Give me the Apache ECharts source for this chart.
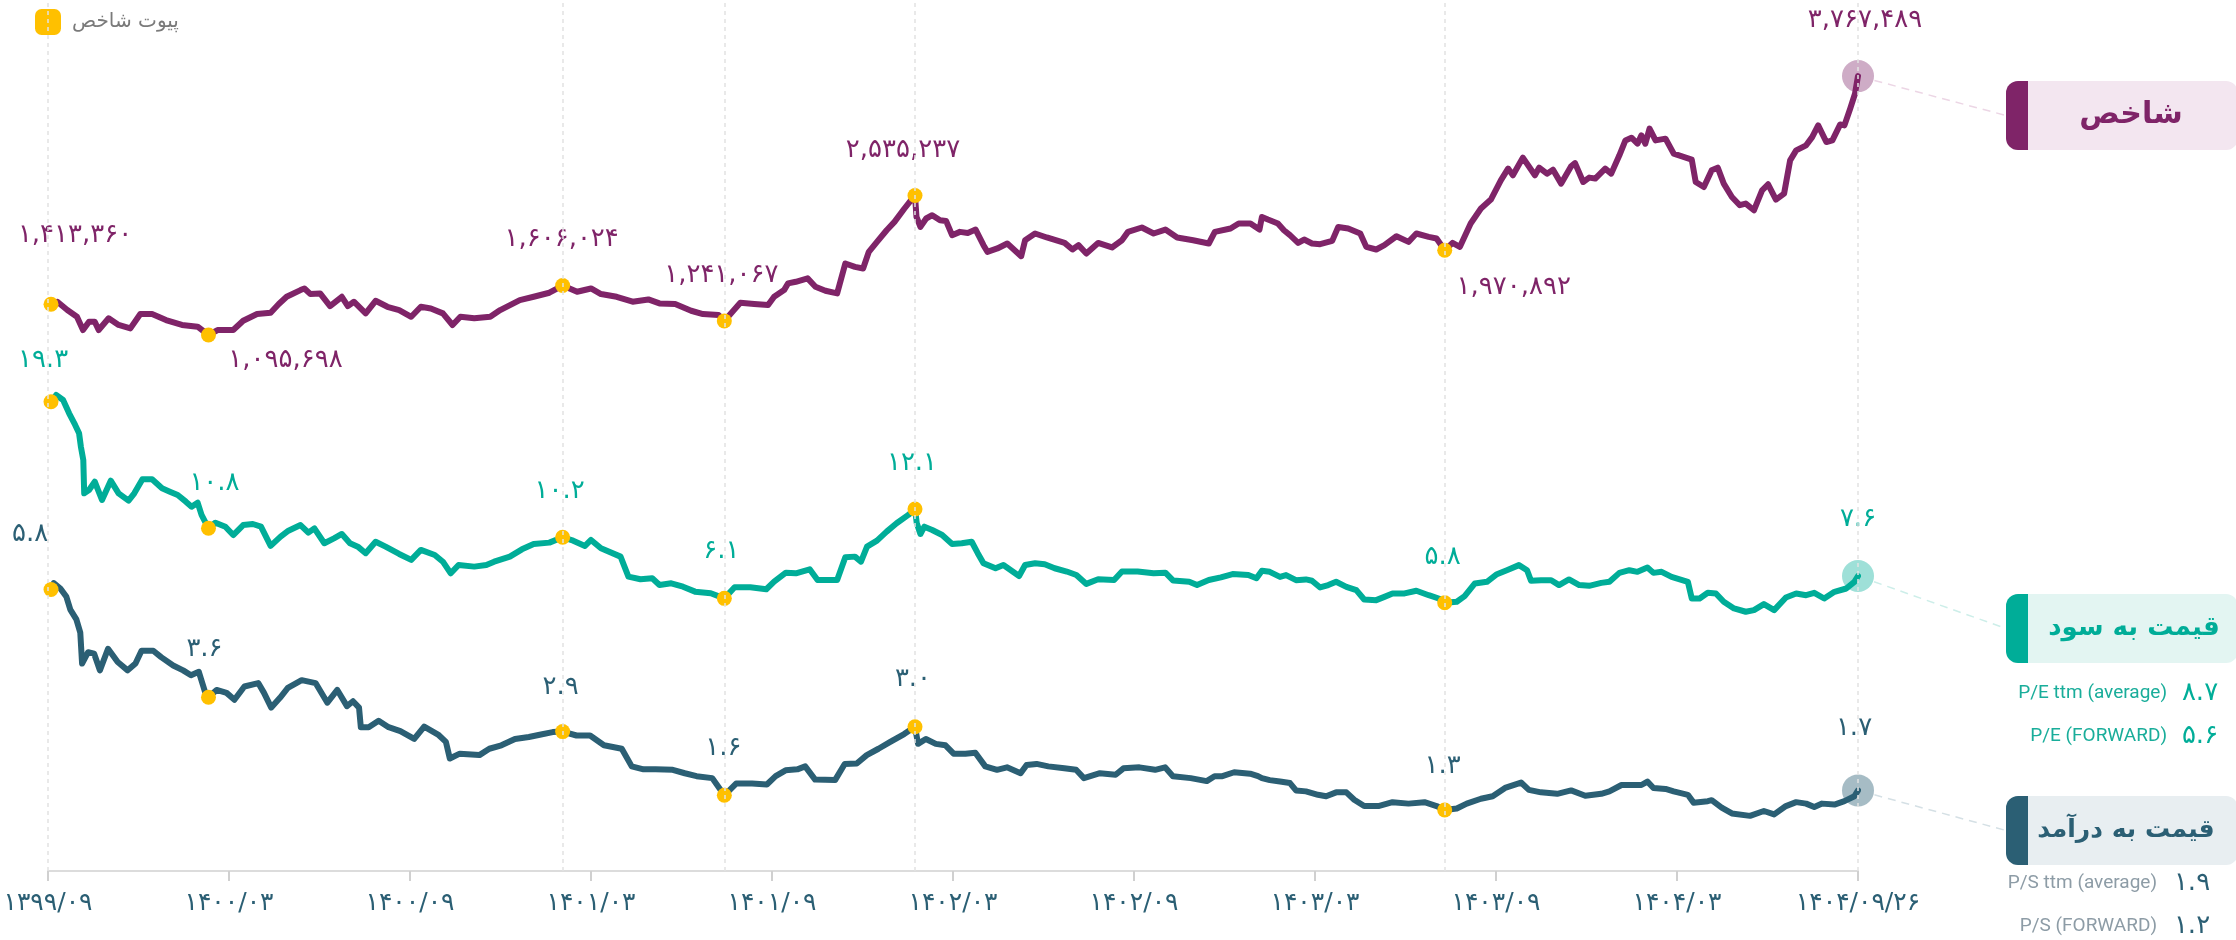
<!DOCTYPE html>
<html lang="fa">
<head>
<meta charset="utf-8">
<title>شاخص، قیمت به سود و قیمت به درآمد</title>
<script src="https://cdn.jsdelivr.net/npm/echarts@6/dist/echarts.min.js"></script>
<style>
  html, body { margin: 0; padding: 0; background: #fff; }
  #chart { width: 2236px; height: 940px; }
</style>
</head>
<body>
<div id="chart"></div>
<script>
// x = months since 1399/09, one tick every 6 months
const xLabels = ['۱۳۹۹/۰۹', '۱۴۰۰/۰۳', '۱۴۰۰/۰۹', '۱۴۰۱/۰۳', '۱۴۰۱/۰۹', '۱۴۰۲/۰۳',
  '۱۴۰۲/۰۹', '۱۴۰۳/۰۳', '۱۴۰۳/۰۹', '۱۴۰۴/۰۳', '۱۴۰۴/۰۹/۲۶'];

// شاخص (thousand points) : [month, value]
const indexPts = [
  [0.1,1413.4],[0.31,1439],[0.64,1353],[0.96,1284],[1.16,1147],[1.36,1233],[1.55,1233],[1.68,1147],[2.01,1268],[2.34,1199],
  [2.73,1164],[3.06,1312],[3.45,1312],[3.91,1250],[4.44,1199],[4.96,1181],[5.32,1095.7],[5.62,1147],[6.14,1147],[6.47,1243],
  [6.93,1312],[7.38,1325],[7.65,1415],[7.91,1490],[8.37,1559],[8.50,1576],[8.70,1518],[9.02,1525],[9.35,1394],[9.74,1490],
  [9.94,1394],[10.14,1439],[10.53,1319],[10.86,1449],[11.25,1387],[11.64,1353],[12.04,1284],[12.36,1387],[12.69,1370],[13.09,1319],
  [13.41,1199],[13.67,1284],[14.13,1268],[14.66,1284],[14.99,1353],[15.64,1456],[16.10,1490],[16.62,1532],[17.06,1606.0],[17.54,1542],
  [18.00,1576],[18.33,1518],[18.85,1490],[19.38,1439],[19.90,1463],[20.27,1422],[20.79,1415],[21.32,1346],[21.71,1312],[22.23,1302],
  [22.42,1241.1],[22.95,1428],[23.41,1415],[23.87,1405],[24.07,1490],[24.40,1559],[24.53,1628],[24.79,1645],[25.18,1680],[25.44,1593],
  [25.77,1552],[26.16,1525],[26.43,1834],[26.75,1799],[27.02,1782],[27.21,1954],[27.48,2057],[27.80,2177],[28.06,2263],[28.39,2401],
  [28.65,2504],[28.74,2535.2],[28.79,2314],[28.92,2211],[29.11,2298],[29.31,2332],[29.57,2280],[29.77,2273],[29.97,2126],[30.23,2160],
  [30.49,2149],[30.75,2184],[31.01,2023],[31.14,1954],[31.47,1989],[31.80,2040],[32.26,1909],[32.39,2074],[32.72,2143],[33.11,2102],
  [33.70,2046],[33.96,1978],[34.16,2023],[34.42,1937],[34.81,2046],[35.27,1999],[35.60,2074],[35.80,2160],[36.26,2205],[36.65,2143],
  [37.04,2184],[37.43,2102],[37.96,2074],[38.48,2040],[38.68,2160],[39.20,2195],[39.47,2246],[39.86,2246],[40.16,2184],[40.24,2314],
  [40.44,2287],[40.77,2246],[40.97,2177],[41.17,2126],[41.44,2046],[41.64,2081],[41.90,2040],[42.17,2033],[42.57,2067],[42.77,2211],
  [43.10,2195],[43.50,2143],[43.70,2005],[44.03,1978],[44.30,2023],[44.70,2115],[45.10,2057],[45.36,2143],[45.77,2108],[46.03,2091],
  [46.30,1970.9],[46.56,2046],[46.80,2005],[47.16,2246],[47.50,2401],[47.83,2493],[48.16,2692],[48.40,2813],[48.56,2744],[48.89,2926],
  [49.29,2744],[49.43,2823],[49.69,2761],[49.89,2802],[50.16,2658],[50.49,2836],[50.62,2870],[50.89,2675],[51.09,2720],[51.29,2710],
  [51.62,2813],[51.82,2761],[52.09,2950],[52.29,3104],[52.49,3132],[52.69,3070],[52.82,3156],[52.95,3070],[53.09,3225],[53.29,3104],
  [53.62,3122],[53.89,2967],[54.49,2905],[54.62,2675],[54.89,2623],[55.15,2795],[55.35,2823],[55.55,2658],[55.82,2520],[56.08,2435],
  [56.28,2452],[56.55,2383],[56.82,2589],[57.02,2651],[57.28,2493],[57.55,2555],[57.75,2898],[57.95,3001],[58.28,3053],[58.48,3138],
  [58.68,3259],[58.95,3087],[59.15,3104],[59.41,3269],[59.55,3259],[59.74,3431],[59.90,3585],[60,3767.5]
];

// قیمت به سود
const pePts = [
  [0.1,19.3],[0.27,19.75],[0.50,19.41],[0.70,18.52],[0.90,17.74],[1.03,17.18],[1.09,16.28],[1.17,15.39],[1.20,13.15],[1.36,13.37],
  [1.55,13.93],[1.79,12.70],[2.08,14.00],[2.34,13.15],[2.67,12.66],[2.86,13.15],[3.13,14.09],[3.45,14.09],[3.78,13.49],[4.04,13.26],
  [4.30,13.04],[4.57,12.59],[4.76,12.25],[4.96,12.52],[5.09,11.70],[5.32,10.8],[5.55,11.18],[5.88,10.91],[6.14,10.35],[6.47,11.02],
  [6.79,11.09],[7.06,10.91],[7.38,9.62],[7.71,10.24],[7.97,10.64],[8.37,11.02],[8.63,10.51],[8.83,10.80],[9.16,9.80],[9.48,10.13],
  [9.74,10.42],[10.01,9.80],[10.27,9.57],[10.53,9.13],[10.86,9.90],[11.19,9.57],[11.64,9.08],[12.04,8.68],[12.36,9.35],[12.82,9.01],
  [13.09,8.56],[13.35,7.78],[13.61,8.34],[14.13,8.23],[14.53,8.34],[14.79,8.56],[15.31,8.90],[15.71,9.39],[16.10,9.75],[16.62,9.84],
  [17.06,10.2],[17.41,9.97],[17.80,9.62],[18.00,10.02],[18.33,9.46],[18.98,8.90],[19.24,7.56],[19.64,7.38],[20.03,7.45],[20.27,7.00],
  [20.66,7.11],[21.05,6.88],[21.45,6.55],[21.97,6.44],[22.42,6.1],[22.76,6.84],[23.28,6.84],[23.81,6.71],[24.07,7.22],[24.46,7.82],
  [24.79,7.78],[25.25,8.05],[25.51,7.33],[25.84,7.33],[26.16,7.33],[26.43,8.86],[26.75,8.90],[26.95,8.56],[27.15,9.57],[27.48,9.97],
  [27.80,10.58],[28.13,11.14],[28.52,11.70],[28.74,12.1],[28.80,11.14],[28.92,10.42],[29.05,10.91],[29.31,10.69],[29.64,10.35],[29.97,9.75],
  [30.29,9.80],[30.62,9.90],[30.82,9.13],[31.01,8.46],[31.41,8.12],[31.67,8.34],[32.19,7.60],[32.39,8.34],[32.72,8.46],[33.04,8.39],
  [33.37,8.12],[33.77,7.90],[34.09,7.67],[34.42,7.07],[34.81,7.38],[35.34,7.33],[35.60,7.90],[36.12,7.90],[36.65,7.78],[37.04,7.82],
  [37.30,7.29],[37.83,7.22],[38.09,7.00],[38.48,7.33],[38.88,7.51],[39.27,7.73],[39.79,7.67],[40.06,7.45],[40.24,7.95],[40.50,7.88],
  [40.84,7.54],[41.04,7.66],[41.37,7.32],[41.70,7.37],[41.90,7.28],[42.17,6.83],[42.44,6.99],[42.70,7.21],[43.04,6.87],[43.37,6.65],
  [43.63,6.02],[44.03,5.98],[44.30,6.20],[44.57,6.43],[44.97,6.43],[45.36,6.61],[45.77,6.31],[46.10,6.09],[46.30,5.8],[46.70,5.87],
  [46.96,6.25],[47.30,7.10],[47.70,7.21],[48.03,7.72],[48.36,7.99],[48.76,8.33],[49.03,7.99],[49.16,7.28],[49.49,7.32],[49.83,7.32],
  [50.09,6.99],[50.42,7.37],[50.76,6.99],[51.09,6.94],[51.49,7.14],[51.76,7.21],[52.09,7.81],[52.42,7.99],[52.69,7.88],[53.02,8.17],
  [53.22,7.81],[53.49,7.88],[53.82,7.54],[54.36,7.21],[54.49,6.09],[54.75,6.09],[55.02,6.47],[55.29,6.43],[55.55,5.87],[55.89,5.42],
  [56.28,5.20],[56.55,5.31],[56.88,5.71],[57.22,5.31],[57.61,6.16],[57.95,6.43],[58.28,6.31],[58.55,6.47],[58.88,6.09],[59.22,6.54],
  [59.61,6.76],[59.88,7.21],[60,7.6]
];

// قیمت به درآمد
const psPts = [
  [0.1,5.8],[0.19,5.93],[0.41,5.82],[0.61,5.65],[0.74,5.39],[0.94,5.19],[1.07,4.92],[1.13,4.29],[1.33,4.52],[1.53,4.49],
  [1.72,4.15],[1.99,4.59],[2.31,4.32],[2.64,4.15],[2.90,4.29],[3.10,4.55],[3.49,4.55],[3.75,4.42],[4.15,4.25],[4.48,4.15],
  [4.74,4.05],[5.00,4.12],[5.20,3.72],[5.32,3.6],[5.59,3.75],[5.92,3.69],[6.18,3.55],[6.51,3.82],[6.97,3.89],[7.16,3.69],
  [7.40,3.39],[7.69,3.59],[7.95,3.79],[8.41,3.95],[8.87,3.89],[9.26,3.49],[9.59,3.75],[9.91,3.42],[10.11,3.52],[10.31,3.39],
  [10.37,2.99],[10.63,2.99],[10.96,3.12],[11.29,2.99],[11.68,2.91],[12.14,2.75],[12.47,3.00],[12.93,2.84],[13.19,2.69],[13.32,2.35],
  [13.65,2.45],[14.30,2.42],[14.63,2.55],[15.03,2.62],[15.48,2.75],[15.94,2.79],[16.34,2.84],[16.73,2.89],[17.06,2.9],[17.52,2.82],
  [17.97,2.82],[18.43,2.62],[19.02,2.55],[19.35,2.19],[19.74,2.13],[20.14,2.13],[20.71,2.12],[21.11,2.05],[21.50,1.99],[22.02,1.95],
  [22.42,1.6],[22.81,1.84],[23.34,1.84],[23.83,1.82],[24.12,1.99],[24.45,2.11],[24.84,2.13],[25.10,2.19],[25.43,1.92],[26.09,1.91],
  [26.41,2.24],[26.81,2.25],[27.14,2.42],[27.53,2.55],[27.92,2.69],[28.38,2.85],[28.74,3.0],[28.84,2.65],[29.10,2.75],[29.43,2.65],
  [29.75,2.62],[30.02,2.45],[30.41,2.45],[30.74,2.47],[31.07,2.19],[31.46,2.12],[31.79,2.17],[32.24,2.05],[32.44,2.22],[32.77,2.24],
  [33.16,2.19],[33.69,2.15],[34.08,2.12],[34.34,1.95],[34.87,2.05],[35.39,2.02],[35.65,2.15],[36.18,2.17],[36.70,2.12],[37.03,2.17],
  [37.29,1.99],[37.88,1.95],[38.41,1.89],[38.67,1.99],[38.93,1.99],[39.32,2.07],[39.85,2.04],[40.11,1.99],[40.24,1.95],[40.50,1.91],
  [40.84,1.88],[41.17,1.85],[41.37,1.70],[41.70,1.68],[42.10,1.61],[42.37,1.58],[42.70,1.66],[43.04,1.66],[43.30,1.51],[43.63,1.38],
  [44.10,1.38],[44.57,1.46],[45.10,1.43],[45.63,1.46],[46.03,1.38],[46.30,1.3],[46.70,1.33],[47.03,1.43],[47.50,1.53],[47.89,1.58],
  [48.30,1.75],[48.83,1.86],[49.09,1.71],[49.49,1.66],[50.03,1.63],[50.49,1.70],[50.96,1.59],[51.49,1.63],[51.76,1.68],[52.16,1.81],
  [52.82,1.81],[53.02,1.88],[53.22,1.75],[53.62,1.73],[53.89,1.68],[54.36,1.61],[54.55,1.45],[55.02,1.48],[55.15,1.50],[55.48,1.35],
  [55.82,1.23],[56.42,1.18],[56.88,1.28],[57.22,1.21],[57.61,1.38],[57.95,1.46],[58.28,1.43],[58.55,1.36],[58.81,1.43],[59.22,1.41],
  [59.55,1.48],[59.88,1.58],[60,1.7]
];

// pivots (the last one is the latest value)
const indexPivots = [[0.1,1413360],[5.32,1095698],[17.06,1606024],[22.42,1241067],[28.74,2535237],[46.3,1970892],[60,3767489]];
const pePivots = [[0.1,19.3],[5.32,10.8],[17.06,10.2],[22.42,6.1],[28.74,12.1],[46.3,5.8],[60,7.6]];
const psPivots = [[0.1,5.8],[5.32,3.6],[17.06,2.9],[22.42,1.6],[28.74,3.0],[46.3,1.3],[60,1.7]];
const guideMonths = [0, 17.06, 22.42, 28.74, 46.3, 60];

const peStatNames = ['P/E ttm (average)', 'P/E (FORWARD)'];
const peStatValues = [8.7, 5.6];
const psStatNames = ['P/S ttm (average)', 'P/S (FORWARD)'];
const psStatValues = [1.9, 1.2];

// label offsets from each pivot (px)
const indexLabelOff = [[24,-69],[77,25],[-1,-46],[-3,-46],[-12,-45],[69,37],[7,-56]];
const peLabelOff = [[-8,-41],[6,-45],[-3,-46],[-3,-47],[-3,-46],[-2,-46],[0,-57]];
const psLabelOff = [[-21,-55],[-4,-48],[-2,-44],[-1,-47],[-2,-47],[-2,-44],[-4,-62]];

const C = { idx: '#7f2468', pe: '#00ad98', ps: '#2b5f74', pivot: '#ffc000' };
const FA = 'DejaVu Sans';

const toFa = s => String(s).replace(/\d/g, d => '۰۱۲۳۴۵۶۷۸۹'[d]);
const fmtIndex = v => toFa(v.toLocaleString('en-US'));
const fmtRatio = v => toFa(v.toFixed(1));

function lineSeries(data, yi, color) {
  return {
    type: 'line', data: data, yAxisIndex: yi, showSymbol: false, symbol: 'none',
    clip: false, z: 3, silent: true,
    lineStyle: { color: color, width: 6, join: 'round', cap: 'round' }
  };
}

function pivotItem(p, i, div, color, off, fmt) {
  return {
    value: [p[0], p[1] / div],
    label: {
      show: true, position: 'inside', offset: off[i], color: color,
      fontSize: 26, fontFamily: FA, formatter: () => fmt(p[1])
    }
  };
}

function pivotSeries(pivots, yi, div, color, off, fmt) {
  const n = pivots.length - 1;
  return {
    name: 'پیوت شاخص', type: 'scatter', yAxisIndex: yi, z: 4, clip: false, silent: true,
    symbolSize: 15, itemStyle: { color: C.pivot, opacity: 1 },
    data: pivots.slice(0, n).map((p, i) => pivotItem(p, i, div, color, off, fmt))
  };
}

function endSeries(pivots, yi, div, color, fill, off, fmt) {
  const n = pivots.length - 1;
  return {
    type: 'scatter', yAxisIndex: yi, z: 2, clip: false, silent: true,
    symbolSize: 32, itemStyle: { color: fill, opacity: 1 },
    data: [pivotItem(pivots[n], n, div, color, off, fmt)]
  };
}

const chart = echarts.init(document.getElementById('chart'));

chart.setOption({
  animation: false,
  backgroundColor: '#fff',
  legend: {
    data: [{ name: 'پیوت شاخص', icon: 'roundRect', itemStyle: { color: C.pivot, opacity: 1 } }],
    left: 30, top: 4, itemWidth: 26, itemHeight: 26, selectedMode: false,
    textStyle: { fontSize: 20, color: '#7a7a7a', fontFamily: FA, padding: [0, 0, 0, 6] }
  },
  grid: { left: 48, right: 378, top: 0, bottom: 69 },
  xAxis: {
    type: 'value', min: 0, max: 60, interval: 6,
    splitLine: { show: false },
    axisLine: { onZero: false, lineStyle: { color: '#dcdcdc', width: 2 } },
    axisTick: { length: 10, lineStyle: { color: '#d0d0d0', width: 2 } },
    axisLabel: {
      formatter: v => xLabels[Math.round(v / 6)], fontSize: 25, color: C.ps,
      fontFamily: FA, margin: 20
    }
  },
  yAxis: [
    { type: 'value', show: false, min: -4435.8, max: 4552.9 },
    { type: 'value', show: false, min: -12.2, max: 46.26 },
    { type: 'value', show: false, min: 0.055, max: 17.83 }
  ],
  series: [
    {
      type: 'line', data: [[0, 1]], yAxisIndex: 2, symbol: 'none', silent: true, z: 1,
      lineStyle: { width: 0 },
      markLine: {
        silent: true, symbol: 'none', label: { show: false },
        lineStyle: { type: [4, 4], color: '#e2e2e2', width: 1.5 },
        data: guideMonths.map(m => ({ xAxis: m }))
      }
    },
    lineSeries(indexPts, 0, C.idx),
    lineSeries(pePts, 1, C.pe),
    lineSeries(psPts, 2, C.ps),
    endSeries(indexPivots, 0, 1000, C.idx, 'rgba(127,36,104,0.38)', indexLabelOff, fmtIndex),
    endSeries(pePivots, 1, 1, C.pe, 'rgba(0,173,152,0.38)', peLabelOff, fmtRatio),
    endSeries(psPivots, 2, 1, C.ps, 'rgba(43,95,116,0.42)', psLabelOff, fmtRatio),
    pivotSeries(indexPivots, 0, 1000, C.idx, indexLabelOff, fmtIndex),
    pivotSeries(pePivots, 1, 1, C.pe, peLabelOff, fmtRatio),
    pivotSeries(psPivots, 2, 1, C.ps, psLabelOff, fmtRatio)
  ]
});

// side boxes
const BOX_X = 2006, BOX_W = 232, BOX_H = 69;
function box(top, bg, bar, title, color, textX, size) {
  return {
    type: 'group', x: BOX_X, y: top, silent: true,
    children: [
      { type: 'rect', shape: { x: 0, y: 0, width: BOX_W, height: BOX_H, r: 12 }, style: { fill: bg } },
      { type: 'rect', shape: { x: 0, y: 0, width: 22, height: BOX_H, r: [12, 0, 0, 12] }, style: { fill: bar } },
      {
        type: 'text', x: textX, y: BOX_H / 2,
        style: { text: title, fill: color, font: 'bold ' + size + 'px "' + FA + '"',
          textAlign: 'center', textVerticalAlign: 'middle', align: 'center', verticalAlign: 'middle' }
      }
    ]
  };
}

function statRows(names, values, top, nameRight, valueX, nameColor, valueColor) {
  const out = [];
  names.forEach((n, i) => {
    const y = top + i * 43;
    out.push({
      type: 'text', x: nameRight, y: y, silent: true,
      style: { text: n, fill: nameColor, font: '19px Roboto',
        textAlign: 'right', textVerticalAlign: 'middle', align: 'right', verticalAlign: 'middle' }
    });
    out.push({
      type: 'text', x: valueX, y: y, silent: true,
      style: { text: fmtRatio(values[i]), fill: valueColor, font: '26px "' + FA + '"',
        textAlign: 'center', textVerticalAlign: 'middle', align: 'center', verticalAlign: 'middle' }
    });
  });
  return out;
}

const boxes = [
  { pivots: indexPivots, yi: 0, div: 1000, top: 81, line: '#ecd6e5' },
  { pivots: pePivots, yi: 1, div: 1, top: 594, line: '#cdeee9' },
  { pivots: psPivots, yi: 2, div: 1, top: 796, line: '#d5e0e5' }
];

const connectors = boxes.map(b => {
  const last = b.pivots[b.pivots.length - 1];
  const p = chart.convertToPixel({ xAxisIndex: 0, yAxisIndex: b.yi }, [last[0], last[1] / b.div]);
  const tx = BOX_X, ty = b.top + BOX_H / 2;
  const dx = tx - p[0], dy = ty - p[1], len = Math.sqrt(dx * dx + dy * dy);
  return {
    type: 'line', silent: true, z: 0,
    shape: { x1: p[0] + dx / len * 17, y1: p[1] + dy / len * 17, x2: tx, y2: ty },
    style: { stroke: b.line, lineWidth: 1.5, lineDash: [8, 6] }
  };
});

chart.setOption({
  graphic: [].concat(
    connectors,
    [
      box(81, '#f3e6f0', C.idx, 'شاخص', C.idx, 125, 30),
      box(594, '#e3f5f2', C.pe, 'قیمت به سود', C.pe, 128, 26),
      box(796, '#e8eef1', C.ps, 'قیمت به درآمد', C.ps, 120, 25)
    ],
    statRows(peStatNames, peStatValues, 693, 2167, 2200, '#19ad9a', C.pe),
    statRows(psStatNames, psStatValues, 883, 2157, 2192, '#8d9ca6', C.ps)
  )
});
</script>
</body>
</html>
